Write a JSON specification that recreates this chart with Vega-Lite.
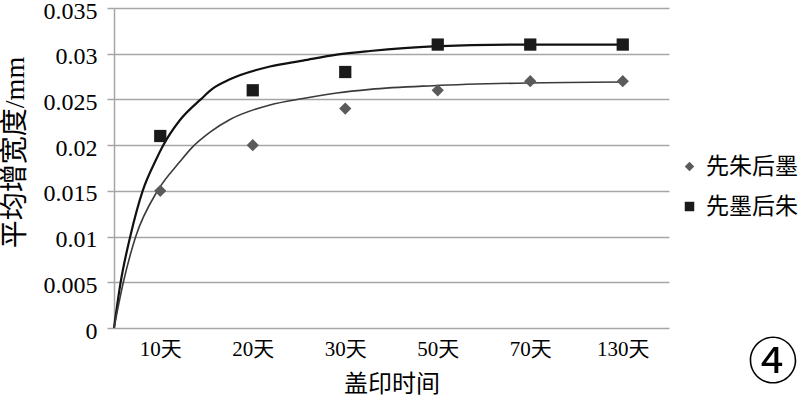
{
  "$schema": "https://vega.github.io/schema/vega-lite/v6.json",
  "width": 555,
  "height": 320,
  "autosize": {"type": "none"},
  "padding": {"left": 114, "top": 8, "right": 131, "bottom": 69},
  "background": "white",
  "config": {
    "view": {"stroke": null},
    "font": "Liberation Serif",
    "axis": {"labelFont": "Liberation Serif, Noto Sans CJK SC", "titleFont": "Liberation Serif, Noto Sans CJK SC", "labelColor": "#000", "titleColor": "#000", "titleFontWeight": "normal"}
  },
  "title": {"text": "④", "orient": "bottom", "anchor": "end", "frame": "bounds", "font": "Noto Sans CJK SC", "fontSize": 50, "fontWeight": "normal", "color": "#000", "offset": -57},
  "datasets": {
    "points": [
      {"series": "先朱后墨", "day": "10天", "idx": 1, "value": 0.015},
      {"series": "先朱后墨", "day": "20天", "idx": 2, "value": 0.020},
      {"series": "先朱后墨", "day": "30天", "idx": 3, "value": 0.024},
      {"series": "先朱后墨", "day": "50天", "idx": 4, "value": 0.026},
      {"series": "先朱后墨", "day": "70天", "idx": 5, "value": 0.027},
      {"series": "先朱后墨", "day": "130天", "idx": 6, "value": 0.027},
      {"series": "先墨后朱", "day": "10天", "idx": 1, "value": 0.021},
      {"series": "先墨后朱", "day": "20天", "idx": 2, "value": 0.026},
      {"series": "先墨后朱", "day": "30天", "idx": 3, "value": 0.028},
      {"series": "先墨后朱", "day": "50天", "idx": 4, "value": 0.031},
      {"series": "先墨后朱", "day": "70天", "idx": 5, "value": 0.031},
      {"series": "先墨后朱", "day": "130天", "idx": 6, "value": 0.031}
    ],
    "curves": [
      {"fit": "墨线", "t": 0.5, "value": 0},
      {"fit": "墨线", "t": 0.572, "value": 0.005},
      {"fit": "墨线", "t": 0.68, "value": 0.0102},
      {"fit": "墨线", "t": 0.81, "value": 0.015},
      {"fit": "墨线", "t": 0.954, "value": 0.0184},
      {"fit": "墨线", "t": 1.022, "value": 0.0198},
      {"fit": "墨线", "t": 1.2135, "value": 0.02275},
      {"fit": "墨线", "t": 1.437, "value": 0.025},
      {"fit": "墨线", "t": 1.57, "value": 0.0262},
      {"fit": "墨线", "t": 1.754, "value": 0.0272},
      {"fit": "墨线", "t": 2.186, "value": 0.0286},
      {"fit": "墨线", "t": 2.543, "value": 0.02925},
      {"fit": "墨线", "t": 2.908, "value": 0.0299},
      {"fit": "墨线", "t": 3.268, "value": 0.0303},
      {"fit": "墨线", "t": 3.949, "value": 0.0308},
      {"fit": "墨线", "t": 4.965, "value": 0.0310},
      {"fit": "墨线", "t": 6.0, "value": 0.0310},
      {"fit": "朱线", "t": 0.5, "value": 0},
      {"fit": "朱线", "t": 0.601, "value": 0.005},
      {"fit": "朱线", "t": 0.735, "value": 0.010},
      {"fit": "朱线", "t": 0.97, "value": 0.015},
      {"fit": "朱线", "t": 1.2135, "value": 0.0182},
      {"fit": "朱线", "t": 1.34, "value": 0.0197},
      {"fit": "朱线", "t": 1.55, "value": 0.0215},
      {"fit": "朱线", "t": 1.754, "value": 0.0228},
      {"fit": "朱线", "t": 2.186, "value": 0.0244},
      {"fit": "朱线", "t": 2.543, "value": 0.0251},
      {"fit": "朱线", "t": 2.908, "value": 0.0257},
      {"fit": "朱线", "t": 3.268, "value": 0.0261},
      {"fit": "朱线", "t": 3.949, "value": 0.0265},
      {"fit": "朱线", "t": 4.965, "value": 0.0268},
      {"fit": "朱线", "t": 6.0, "value": 0.0269}
    ]
  },
  "encoding": {
    "x": {
      "type": "quantitative",
      "scale": {"domain": [0.5, 6.5], "nice": false, "zero": false},
      "axis": {
        "title": "盖印时间",
        "values": [1, 2, 3, 4, 5, 6],
        "labelExpr": "['10天','20天','30天','50天','70天','130天'][datum.value - 1]",
        "grid": false, "domain": false, "ticks": false,
        "labelFontSize": 21, "labelPadding": 10,
        "titleFontSize": 24, "titlePadding": 13
      }
    },
    "y": {
      "type": "quantitative",
      "scale": {"domain": [0, 0.035], "nice": false},
      "axis": {
        "title": "平均增宽度/mm",
        "values": [0, 0.005, 0.01, 0.015, 0.02, 0.025, 0.03, 0.035],
        "format": "~g",
        "grid": true, "gridColor": "#a6a6a6", "gridWidth": 1.5,
        "domain": true, "domainColor": "#a6a6a6", "domainWidth": 1.5,
        "ticks": true, "tickSize": 7, "tickColor": "#a6a6a6", "tickWidth": 1.5,
        "labelFontSize": 24, "labelPadding": 10, "labelOffset": 3,
        "titleFontSize": 28, "titleX": -99, "titleY": 144, "titleBaseline": "middle", "titleAlign": "center", "titleAngle": 270
      }
    }
  },
  "layer": [
    {
      "data": {"name": "curves"},
      "mark": {"type": "line", "interpolate": "monotone"},
      "encoding": {
        "x": {"field": "t"},
        "y": {"field": "value"},
        "detail": {"field": "fit"},
        "stroke": {"field": "fit", "type": "nominal", "scale": {"domain": ["朱线", "墨线"], "range": ["#3a3a3a", "#111111"]}, "legend": null},
        "strokeWidth": {"field": "fit", "type": "nominal", "scale": {"domain": ["朱线", "墨线"], "range": [1.6, 2.2]}, "legend": null}
      }
    },
    {
      "data": {"name": "points"},
      "mark": {"type": "point", "filled": true, "size": 150, "opacity": 1},
      "encoding": {
        "x": {"field": "idx"},
        "y": {"field": "value"},
        "color": {"field": "series", "type": "nominal", "scale": {"domain": ["先朱后墨", "先墨后朱"], "range": ["#5a5a5a", "#1a1a1a"]}, "legend": {"title": null, "orient": "none", "legendX": 564, "legendY": 147, "labelFont": "Noto Sans CJK SC", "labelFontSize": 23, "labelColor": "#000", "symbolSize": 90, "rowPadding": 16, "labelOffset": 5, "symbolOpacity": 1, "labelLimit": 200}},
        "shape": {"field": "series", "type": "nominal", "scale": {"domain": ["先朱后墨", "先墨后朱"], "range": ["diamond", "square"]}, "legend": {"title": null, "orient": "none", "legendX": 564, "legendY": 147, "labelFont": "Noto Sans CJK SC", "labelFontSize": 23, "labelColor": "#000", "symbolSize": 90, "rowPadding": 16, "labelOffset": 5, "symbolOpacity": 1, "labelLimit": 200}}
      }
    }
  ]
}
